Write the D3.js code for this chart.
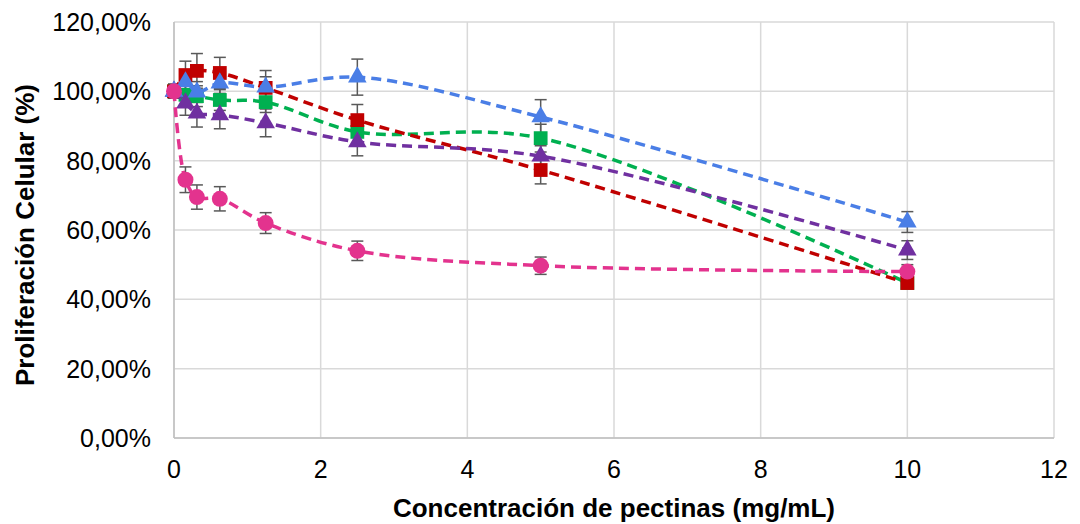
<!DOCTYPE html>
<html>
<head>
<meta charset="utf-8">
<script src="https://cdn.jsdelivr.net/npm/d3@7"></script>
<style>
  body { margin: 0; background: #fff; }
  text { font-family: "Liberation Sans", Arial, sans-serif; }
</style>
</head>
<body>
<script>
const conc = [0, 0.15625, 0.3125, 0.625, 1.25, 2.5, 5, 10];

// values in %
const green  = [100, 99.0, 98.6, 97.5, 96.9, 88.3, 86.5, 44.7];
const greenErr = [2, 3, 3, 3, 3, 3.5, 4, 1.5];
const red    = [100, 104.7, 105.9, 105.3, 101.0, 91.7, 77.3, 44.7];
const redErr = [2, 4, 5, 4.5, 5, 4.5, 4, 1.5];
const purple = [100, 96.6, 93.7, 93.2, 90.9, 85.4, 81.3, 54.2];
const purpleErr = [2, 3.5, 4, 4, 4, 4, 3, 2.7];
const blue   = [100, 102.7, 99.8, 102.4, 101.2, 104.1, 92.6, 62.3];
const blueErr = [2, 3, 3, 3, 3, 5.2, 5, 3];
const pink   = [100, 74.5, 69.5, 69.0, 62.0, 54.0, 49.7, 48.0];
const pinkErr = [1.5, 3.7, 3.5, 3.5, 3, 2.8, 2.5, 2];

const xTicks = [0, 2, 4, 6, 8, 10, 12];
const yTicks = [0, 20, 40, 60, 80, 100, 120];

const series = [
  { name: "green", color: "#00B050", shape: "square", vals: green, err: greenErr },
  { name: "red", color: "#C00000", shape: "square", vals: red, err: redErr },
  { name: "purple", color: "#7030A0", shape: "triangle", vals: purple, err: purpleErr },
  { name: "blue", color: "#4A7EE6", shape: "triangle", vals: blue, err: blueErr },
  { name: "pink", color: "#E3338E", shape: "circle", vals: pink, err: pinkErr }
];

const W = 1080, H = 524;
const mLeft = 174, mRight = 1054, mTop = 22, mBottom = 438;

const svg = d3.select("body").append("svg").attr("width", W).attr("height", H);

const x = d3.scaleLinear().domain([0, 12]).range([mLeft, mRight]);
const y = d3.scaleLinear().domain([0, 120]).range([mBottom, mTop]);

// gridlines
svg.append("g")
  .selectAll("line")
  .data(yTicks)
  .enter()
  .append("line")
  .attr("x1", mLeft).attr("x2", mRight)
  .attr("y1", d => y(d)).attr("y2", d => y(d))
  .attr("stroke", "#D9D9D9").attr("stroke-width", 1.5);

svg.append("g")
  .selectAll("line")
  .data(xTicks)
  .enter()
  .append("line")
  .attr("x1", d => x(d)).attr("x2", d => x(d))
  .attr("y1", mTop).attr("y2", mBottom)
  .attr("stroke", "#D9D9D9").attr("stroke-width", 1.5);

// axis lines
svg.append("line").attr("x1", mLeft).attr("x2", mLeft).attr("y1", mTop).attr("y2", mBottom)
  .attr("stroke", "#BFBFBF").attr("stroke-width", 1.5);
svg.append("line").attr("x1", mLeft).attr("x2", mRight).attr("y1", mBottom).attr("y2", mBottom)
  .attr("stroke", "#BFBFBF").attr("stroke-width", 1.5);

// tick labels
const fmt = d => d.toFixed(2).replace(".", ",") + "%";
svg.append("g")
  .selectAll("text")
  .data(yTicks)
  .enter()
  .append("text")
  .attr("x", 151)
  .attr("y", d => y(d) + 9)
  .attr("text-anchor", "end")
  .style("font-size", "25px")
  .attr("fill", "#000")
  .text(fmt);

svg.append("g")
  .selectAll("text")
  .data(xTicks)
  .enter()
  .append("text")
  .attr("x", d => x(d))
  .attr("y", 478)
  .attr("text-anchor", "middle")
  .style("font-size", "25px")
  .attr("fill", "#000")
  .text(d => d);

// axis titles
svg.append("text")
  .attr("x", (mLeft + mRight) / 2)
  .attr("y", 517)
  .attr("text-anchor", "middle")
  .style("font-size", "26px")
  .style("font-weight", "bold")
  .text("Concentración de pectinas (mg/mL)");

svg.append("text")
  .attr("transform", `translate(34, 235) rotate(-90)`)
  .attr("text-anchor", "middle")
  .style("font-size", "26px")
  .style("font-weight", "bold")
  .text("Proliferación Celular (%)");

const line = d3.line()
  .x((d, i) => x(conc[i]))
  .y(d => y(d))
  .curve(d3.curveCatmullRom.alpha(0.5));

// error bars
series.forEach(s => {
  const g = svg.append("g");
  const pts = s.vals.map((v, i) => ({ x: conc[i], v: v, e: s.err[i] }));
  g.selectAll("line.v").data(pts).enter().append("line")
    .attr("x1", d => x(d.x)).attr("x2", d => x(d.x))
    .attr("y1", d => y(d.v - d.e)).attr("y2", d => y(d.v + d.e))
    .attr("stroke", "#595959").attr("stroke-width", 1.5);
  [-1, 1].forEach(k => {
    g.selectAll("line.c" + k).data(pts).enter().append("line")
      .attr("x1", d => x(d.x) - 6).attr("x2", d => x(d.x) + 6)
      .attr("y1", d => y(d.v + k * d.e)).attr("y2", d => y(d.v + k * d.e))
      .attr("stroke", "#595959").attr("stroke-width", 1.5);
  });
});

// lines and markers
series.forEach(s => {
  svg.append("path")
    .datum(s.vals)
    .attr("d", line)
    .attr("fill", "none")
    .attr("stroke", s.color)
    .attr("stroke-width", 3.5)
    .attr("stroke-dasharray", "10,6");

  const sym = s.shape === "square" ? d3.symbolSquare
    : s.shape === "triangle" ? d3.symbolTriangle : d3.symbolCircle;
  const size = s.shape === "square" ? 190 : s.shape === "triangle" ? 150 : 200;
  svg.append("g")
    .selectAll("path")
    .data(s.vals)
    .enter()
    .append("path")
    .attr("transform", (d, i) => `translate(${x(conc[i])},${y(d)})`)
    .attr("d", d3.symbol().type(sym).size(size))
    .attr("fill", s.color);
});
</script>
</body>
</html>
